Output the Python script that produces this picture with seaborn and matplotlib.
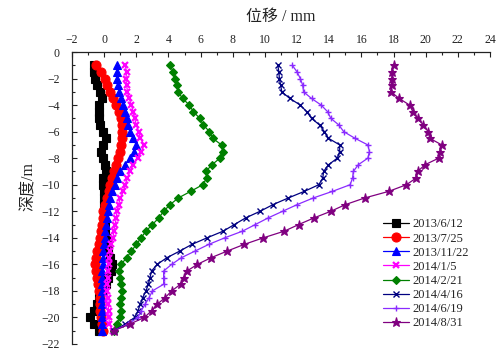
import matplotlib
matplotlib.use("Agg")
import matplotlib.pyplot as plt
from matplotlib.ticker import MultipleLocator
import numpy as np
import pandas as pd
import seaborn as sns

# Measurement depths (m), inclinometer readings every 0.5 m
depth = [-1.0, -1.5, -2.0, -2.5, -3.0, -3.5, -4.0, -4.5, -5.0, -5.5,
         -6.0, -6.5, -7.0, -7.5, -8.0, -8.5, -9.0, -9.5, -10.0, -10.5,
         -11.0, -11.5, -12.0, -12.5, -13.0, -13.5, -14.0, -14.5, -15.0, -15.5,
         -16.0, -16.5, -17.0, -17.5, -18.0, -18.5, -19.0, -19.5, -20.0, -20.5,
         -21.0]

# Horizontal displacement (mm) for each survey date
disp_20130612 = [-0.65, -0.62, -0.57, -0.45, -0.28, -0.12, -0.30, -0.32, -0.32, -0.25,
                 -0.08, 0.10, -0.10, -0.20, -0.10, 0.05, 0.10, -0.05, -0.05, 0.00,
                 0.00, 0.02, 0.03, 0.00, 0.05, 0.08, 0.10, 0.15, 0.25, 0.38,
                 0.47, 0.40, 0.25, 0.10, -0.10, -0.30, -0.47, -0.65, -0.85, -0.65,
                 -0.30]
disp_20130725 = [-0.50, -0.20, 0.05, 0.20, 0.35, 0.55, 0.75, 0.95, 1.05, 1.10,
                 1.10, 1.08, 1.03, 0.98, 0.88, 0.75, 0.60, 0.48, 0.38, 0.28,
                 0.15, 0.05, -0.05, -0.10, -0.15, -0.22, -0.28, -0.35, -0.42, -0.50,
                 -0.57, -0.52, -0.45, -0.38, -0.30, -0.27, -0.26, -0.24, -0.22, -0.16,
                 -0.10]
disp_20131122 = [0.80, 0.80, 0.80, 0.85, 0.95, 1.05, 1.15, 1.30, 1.40, 1.50,
                 1.60, 1.80, 2.00, 1.85, 1.60, 1.30, 1.00, 0.80, 0.65, 0.50,
                 0.35, 0.30, 0.22, 0.18, 0.12, 0.08, 0.05, 0.00, -0.05, -0.08,
                 -0.10, -0.12, -0.15, -0.15, -0.15, -0.15, -0.15, -0.15, -0.15, -0.15,
                 -0.15]
disp_20140105 = [1.30, 1.40, 1.35, 1.40, 1.45, 1.55, 1.70, 1.80, 1.90, 2.00,
                 2.15, 2.25, 2.50, 2.30, 2.10, 1.80, 1.60, 1.45, 1.30, 1.20,
                 1.00, 0.90, 0.80, 0.75, 0.68, 0.60, 0.55, 0.45, 0.38, 0.32,
                 0.28, 0.25, 0.22, 0.20, 0.20, 0.22, 0.25, 0.28, 0.30, 0.32,
                 0.55]
disp_20140221 = [4.10, 4.30, 4.40, 4.50, 4.60, 4.88, 5.30, 5.55, 5.95, 6.17,
                 6.55, 6.75, 7.30, 7.37, 7.20, 6.70, 6.33, 6.38, 6.13, 5.38,
                 4.61, 4.10, 3.70, 3.40, 3.00, 2.60, 2.30, 2.00, 1.70, 1.40,
                 1.05, 0.95, 1.00, 1.05, 1.10, 1.05, 1.00, 1.05, 1.00, 0.80,
                 0.60]
disp_20140416 = [10.80, 10.87, 10.90, 10.98, 11.05, 11.55, 12.20, 12.60, 12.90, 13.40,
                 13.70, 13.95, 14.65, 14.65, 14.50, 13.95, 13.65, 13.60, 13.35, 12.45,
                 11.45, 10.50, 9.70, 8.80, 8.10, 7.40, 6.40, 5.45, 4.70, 3.90,
                 3.30, 2.95, 2.85, 2.75, 2.60, 2.40, 2.25, 2.10, 1.90, 1.30,
                 0.60]
disp_20140619 = [11.70, 12.00, 12.20, 12.35, 12.40, 12.90, 13.50, 13.90, 14.10, 14.60,
                 14.90, 15.60, 16.40, 16.50, 16.40, 15.80, 15.50, 15.45, 15.30, 14.20,
                 13.00, 12.00, 11.10, 10.20, 9.40, 8.60, 7.50, 6.50, 5.65, 4.80,
                 4.20, 3.70, 3.70, 3.70, 3.00, 2.80, 2.55, 2.30, 2.10, 1.50,
                 0.60]
disp_20140831 = [18.00, 17.90, 17.90, 17.88, 17.84, 18.35, 19.00, 19.20, 19.50, 19.85,
                 20.15, 20.25, 21.00, 20.90, 20.80, 19.95, 19.50, 19.40, 18.80, 17.70,
                 16.20, 15.00, 14.10, 13.05, 12.10, 11.20, 9.90, 8.70, 7.65, 6.65,
                 5.80, 5.15, 4.95, 4.75, 4.20, 3.80, 3.30, 2.95, 2.50, 1.60,
                 0.60]

dates = ["2013/6/12", "2013/7/25", "2013/11/22", "2014/1/5",
         "2014/2/21", "2014/4/16", "2014/6/19", "2014/8/31"]
series = [disp_20130612, disp_20130725, disp_20131122, disp_20140105,
          disp_20140221, disp_20140416, disp_20140619, disp_20140831]

styles = {
    "2013/6/12":  dict(color="#000000", marker="s", ms=5.5, mew=0.8),
    "2013/7/25":  dict(color="#FF0000", marker="o", ms=6.5, mew=0.8),
    "2013/11/22": dict(color="#0000FF", marker="^", ms=5.5, mew=0.8),
    "2014/1/5":   dict(color="#FF00FF", marker="x", ms=4.5, mew=1.6),
    "2014/2/21":  dict(color="#008000", marker="D", ms=4.5, mew=0.8),
    "2014/4/16":  dict(color="#000080", marker="x", ms=4.5, mew=1.0),
    "2014/6/19":  dict(color="#8A2BFF", marker="+", ms=5.0, mew=1.0),
    "2014/8/31":  dict(color="#800080", marker="*", ms=6.5, mew=0.8),
}

frames = []
for label, values in zip(dates, series):
    frames.append(pd.DataFrame({"date": label, "disp": values, "depth": depth}))
df = pd.concat(frames, ignore_index=True)

sns.set_style("ticks")
plt.rcParams["font.family"] = ["Liberation Serif", "Noto Sans CJK SC"]
plt.rcParams["axes.unicode_minus"] = True

fig = plt.figure(figsize=(5.02, 3.54), dpi=100)
ax = fig.add_axes([72 / 502, 1 - 344 / 354, 418 / 502, 292 / 354])

for label in dates:
    st = styles[label]
    sub = df[df["date"] == label]
    sns.lineplot(data=sub, x="disp", y="depth", sort=False, estimator=None,
                 orient="y", ax=ax, color=st["color"], marker=st["marker"],
                 markersize=st["ms"], markeredgewidth=st["mew"],
                 markeredgecolor=st["color"], markerfacecolor=st["color"],
                 linewidth=0.9, label=label, clip_on=False)

ax.set_xlim(-2, 24)
ax.set_ylim(-22, 0)
ax.xaxis.set_major_locator(MultipleLocator(2))
ax.xaxis.set_minor_locator(MultipleLocator(1))
ax.yaxis.set_major_locator(MultipleLocator(2))
ax.yaxis.set_minor_locator(MultipleLocator(1))
ax.xaxis.tick_top()
ax.xaxis.set_label_position("top")

for side in ("right", "bottom"):
    ax.spines[side].set_visible(False)
for side in ("left", "top"):
    ax.spines[side].set_linewidth(0.9)
    ax.spines[side].set_color("#222222")

ax.tick_params(axis="x", which="both", direction="in", top=True, bottom=False,
               labeltop=True, labelbottom=False, labelsize=8.5, pad=4,
               colors="#222222")
ax.tick_params(axis="y", which="both", direction="in", labelsize=8.5, pad=9,
               colors="#222222")
ax.tick_params(which="major", length=3.5, width=0.8)
ax.tick_params(which="minor", length=1.8, width=0.8)

ax.set_xlabel("位移 / mm", fontsize=11.5, color="#222222")
ax.set_ylabel("深度/m", fontsize=11.5, color="#222222")
ax.xaxis.set_label_coords(0.5, 1.107)
ax.yaxis.set_label_coords(-0.085, 0.54)

ax.legend(loc="upper left", bbox_to_anchor=(0.743, 0.43), frameon=False,
          fontsize=9, handlelength=2.1, handletextpad=0.3, labelspacing=0.17,
          borderaxespad=0, borderpad=0)

fig.savefig("out.png", dpi=100)
